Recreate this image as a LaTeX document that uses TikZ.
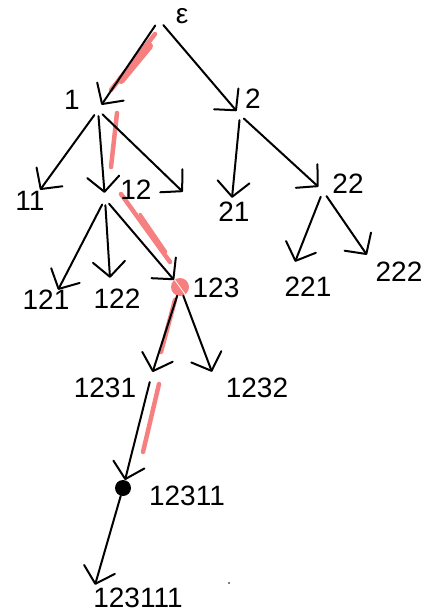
\documentclass[tikz,border=0pt]{standalone}
\usepackage{fontspec}
\setmainfont{Liberation Sans}
\usetikzlibrary{arrows.meta,calc}
\definecolor{hlpink}{RGB}{246,128,128}
\begin{document}
\begin{tikzpicture}[x=1pt,y=-1pt,
  vtx/.style={circle,inner sep=0pt,minimum size=#1},
  vtx/.default=0pt,
  lbl/.style={inner sep=0pt,font=\fontsize{28}{28}\selectfont},
  edge/.style={line width=2pt,line cap=round,line join=round,
    -{Straight Barb[length=15pt,width=32pt,line width=2pt,round]}},
  hl/.style={draw=hlpink,line width=4.5pt,line cap=round}]
\useasboundingbox (0,0) rectangle (432,612);
% pink highlights
\draw[hl] (155,34) -- (111,90);
\draw[hl,line width=8pt] (149,46) -- (121,80);
\draw[hl] (117,113) -- (111,167);
\draw[hl] (121,194) -- (170,262);
\draw[hl,line width=3pt] (140,214) -- (166,252);
\draw[hl] (175,300) -- (161,352);
\draw[hl] (159,384) -- (143,452);
% tree vertices
\node[vtx=13pt] (e) at (159,20) {};
\node[vtx=12pt] (n1) at (98,110) {};
\node[vtx=10pt] (n2) at (240,115) {};
\node[vtx] (n11) at (40,190) {};
\node[vtx=12pt] (n12) at (105,199) {};
\node[vtx] (n13) at (183,192) {};
\node[vtx] (n21) at (232,198) {};
\node[vtx=12pt] (n22) at (323,191) {};
\node[vtx] (n121) at (58,290) {};
\node[vtx] (n122) at (110,278) {};
\node[vtx=18pt,fill=hlpink] (n123) at (180,287) {};
\node[vtx] (n221) at (295,262) {};
\node[vtx] (n222) at (367,255) {};
\node[vtx=10pt] (n1231) at (151,377) {};
\node[vtx] (n1232) at (212,372) {};
\node[vtx=16pt,fill=black] (n12311) at (123,488) {};
\node[vtx] (n123111) at (95,585) {};
\draw[white,line width=0.8pt] ($(n123)+(-8,-11)$) -- ($(n123)+(7,10)$);
% edges
\draw[edge] (e) -- (n1);
\draw[edge] (e) -- (n2);
\draw[edge] (n1) -- (n11);
\draw[edge] (n1) -- (n12);
\draw[edge] (n1) -- (n13);
\draw[edge] (n2) -- (n21);
\draw[edge] (n2) -- (n22);
\draw[edge] (n12) -- (n121);
\draw[edge] (n12) -- (n122);
\draw[edge] (n12) -- (n123);
\draw[edge] (n22) -- (n221);
\draw[edge] (n22) -- (n222);
\draw[edge] (n123) -- (n1231);
\draw[edge] (n123) -- (n1232);
\draw[edge] (n1231) -- (n12311);
\draw[edge] (n12311) -- (n123111);
% labels
\node[lbl] (le) at (182,16) {ε};
\node[lbl] (l1) at (72,100) {1};
\node[lbl] (l2) at (253,99) {2};
\node[lbl] (l11) at (30,201) {11};
\node[lbl] (l12) at (136,190) {12};
\node[lbl] (l21) at (234,212) {21};
\node[lbl] (l22) at (348,184) {22};
\node[lbl] (l121) at (46,300) {121};
\node[lbl] (l122) at (117,299) {122};
\node[lbl] (l123) at (216,288) {123};
\node[lbl] (l221) at (308,287) {221};
\node[lbl] (l222) at (399,272) {222};
\node[lbl] (l1231) at (105,388) {1231};
\node[lbl] (l1232) at (257,388) {1232};
\node[lbl] (l12311) at (187,496) {12311};
\node[lbl] (l123111) at (138,598) {123111};
\fill (229,583) circle (0.8pt);
\end{tikzpicture}
\end{document}
